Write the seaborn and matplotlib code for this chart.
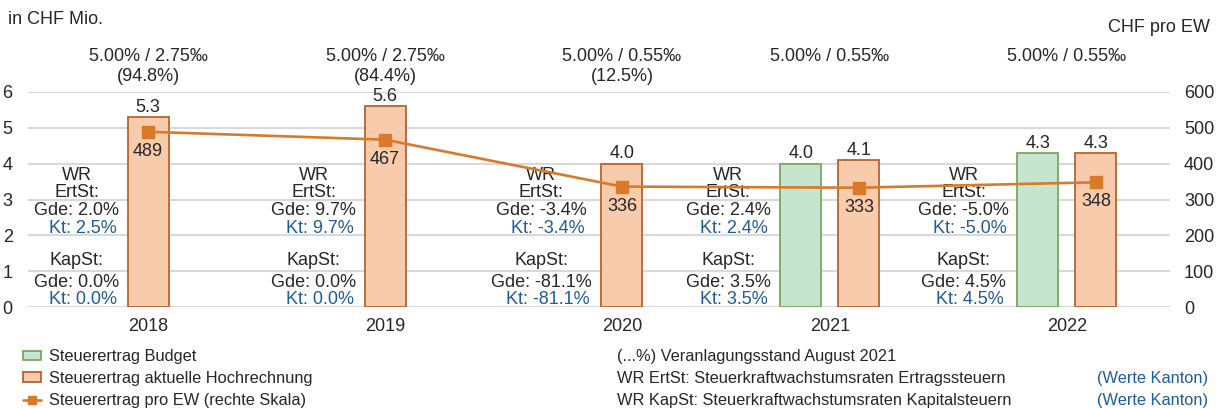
import numpy as np
import pandas as pd
import matplotlib
matplotlib.use("Agg")
import matplotlib.pyplot as plt
from matplotlib.patches import Patch
from matplotlib.lines import Line2D
import seaborn as sns

# -----------------------------
# Data
# -----------------------------
years = ["2018", "2019", "2020", "2021", "2022"]
budget = [np.nan, np.nan, np.nan, 4.0, 4.3]
hochrechnung = [5.3, 5.6, 4.0, 4.1, 4.3]
pro_ew = [489, 467, 336, 333, 348]

steuerfuss = ["5.00% / 2.75‰", "5.00% / 2.75‰", "5.00% / 0.55‰", "5.00% / 0.55‰", "5.00% / 0.55‰"]
veranlagung = ["(94.8%)", "(84.4%)", "(12.5%)", "", ""]
ert_gde = ["2.0%", "9.7%", "-3.4%", "2.4%", "-5.0%"]
ert_kt = ["2.5%", "9.7%", "-3.4%", "2.4%", "-5.0%"]
kap_gde = ["0.0%", "0.0%", "-81.1%", "3.5%", "4.5%"]
kap_kt = ["0.0%", "0.0%", "-81.1%", "3.5%", "4.5%"]

series_names = ["Steuerertrag Budget", "Steuerertrag aktuelle Hochrechnung"]

df = pd.DataFrame({
    "year": years * 2,
    "series": [series_names[0]] * 5 + [series_names[1]] * 5,
    "value": budget + hochrechnung,
})

# colours
GREEN, GREEN_EDGE = "#C6E4CE", "#78A862"
ORANGE, ORANGE_EDGE = "#F9CBAD", "#B5652F"
LINE = "#D97A2B"
BLUE = "#1F5C99"
TXT = "#262626"
GRID = "#D9D9D9"
FS = 13      # chart texts
FS_LEG = 11.8  # legend / notes

sns.set_theme(style="white")
plt.rcParams["font.family"] = ["Liberation Sans", "DejaVu Sans"]
plt.rcParams["font.size"] = FS
plt.rcParams["text.color"] = TXT

W, H = 1224, 408
fig = plt.figure(figsize=(W / 100, H / 100), dpi=100)
ax = fig.add_axes([28 / W, 1 - 307 / H, (1170 - 28) / W, 215 / H])

# -----------------------------
# Bars
# -----------------------------
sns.barplot(data=df, x="year", y="value", hue="series", order=years,
            hue_order=series_names, palette=[GREEN, ORANGE], saturation=1,
            width=0.49, gap=0.294, errorbar=None, legend=False,
            linewidth=1.3, ax=ax)

bud_bars, hoch_bars = ax.containers[0], ax.containers[1]
for bars, edge in [(bud_bars, GREEN_EDGE), (hoch_bars, ORANGE_EDGE)]:
    for b in bars:
        b.set_edgecolor(edge)
        b.set_linewidth(1.3)

for bars in [bud_bars, hoch_bars]:
    labels = ["" if np.isnan(b.get_height()) else f"{b.get_height():.1f}" for b in bars]
    ax.bar_label(bars, labels=labels, padding=1, fontsize=FS, color=TXT)

orange_x = [b.get_x() + b.get_width() / 2 for b in hoch_bars]

ax.set_ylim(0, 6)
ax.set_xlim(-0.384, 4.435)
ax.set_yticks(range(0, 7))
ax.grid(axis="y", color=GRID, linewidth=1.5)
ax.set_axisbelow(True)
for s in ax.spines.values():
    s.set_visible(False)

tick_x = [orange_x[i] if np.isnan(budget[i]) else i for i in range(len(years))]
ax.set_xticks(tick_x)
ax.set_xticklabels(years)
ax.set_xlabel("")
ax.set_ylabel("")
ax.tick_params(axis="both", length=0, labelsize=FS, colors=TXT)
ax.tick_params(axis="y", pad=11)
ax.tick_params(axis="x", pad=8)

# -----------------------------
# Line on the right scale
# -----------------------------
ax2 = ax.twinx()
ax2.plot(orange_x, pro_ew, color=LINE, linewidth=1.9, marker="s",
         markersize=8, zorder=5)
for x, v in zip(orange_x, pro_ew):
    ax2.annotate(str(v), (x, v), xytext=(0, -14), textcoords="offset points",
                 ha="center", va="center", fontsize=FS, color=TXT)
ax2.set_ylim(0, 600)
ax2.set_yticks(range(0, 601, 100))
ax2.tick_params(axis="y", length=0, labelsize=FS, colors=TXT, pad=10)
for s in ax2.spines.values():
    s.set_visible(False)
ax2.grid(False)

# -----------------------------
# Annotations
# -----------------------------
for i in range(len(years)):
    ax.text(tick_x[i], 7.0, steuerfuss[i], ha="center", va="center",
            fontsize=FS, clip_on=False)
    if veranlagung[i]:
        ax.text(tick_x[i], 6.42, veranlagung[i], ha="center", va="center",
                fontsize=FS, clip_on=False)

wr_offset = [-0.30, -0.30, -0.34, -0.43, -0.435]
line_y = [3.67, 3.19, 2.69, 2.19, 1.31, 0.69, 0.22]
for i in range(len(years)):
    x = tick_x[i] + wr_offset[i]
    rows = [("WR", TXT, 0), ("ErtSt:", TXT, 0), (f"Gde: {ert_gde[i]}", TXT, 0),
            (f"Kt: {ert_kt[i]}", BLUE, 0.025), ("KapSt:", TXT, 0),
            (f"Gde: {kap_gde[i]}", TXT, 0), (f"Kt: {kap_kt[i]}", BLUE, 0.025)]
    for (t, c, dx), y in zip(rows, line_y):
        ax.text(x + dx, y, t, ha="center", va="center", fontsize=FS, color=c)

fig.text(8 / W, 1 - 19 / H, "in CHF Mio.", ha="left", va="center", fontsize=FS)
fig.text(1210 / W, 1 - 28 / H, "CHF pro EW", ha="right", va="center", fontsize=FS)

# -----------------------------
# Legend and notes
# -----------------------------
handles = [
    Patch(facecolor=GREEN, edgecolor=GREEN_EDGE, linewidth=1.3),
    Patch(facecolor=ORANGE, edgecolor=ORANGE_EDGE, linewidth=1.3),
    Line2D([0], [0], color=LINE, linewidth=1.9, marker="s", markersize=6),
]
fig.legend(handles, series_names + ["Steuerertrag pro EW (rechte Skala)"],
           loc="upper left", bbox_to_anchor=(23 / W, 1 - 349 / H),
           frameon=False, fontsize=FS_LEG, borderpad=0, borderaxespad=0,
           handlelength=1.1, handleheight=0.5, handletextpad=0.5,
           labelspacing=0.42)

notes = ["(...%) Veranlagungsstand August 2021",
         "WR ErtSt: Steuerkraftwachstumsraten Ertragssteuern",
         "WR KapSt: Steuerkraftwachstumsraten Kapitalsteuern"]
for k, (t, y) in enumerate(zip(notes, [356, 378, 400])):
    fig.text(617 / W, 1 - y / H, t, ha="left", va="center", fontsize=FS_LEG)
    if k > 0:
        fig.text(1208 / W, 1 - y / H, "(Werte Kanton)", ha="right",
                 va="center", fontsize=FS_LEG, color=BLUE)

fig.savefig("out.png", dpi=100)
